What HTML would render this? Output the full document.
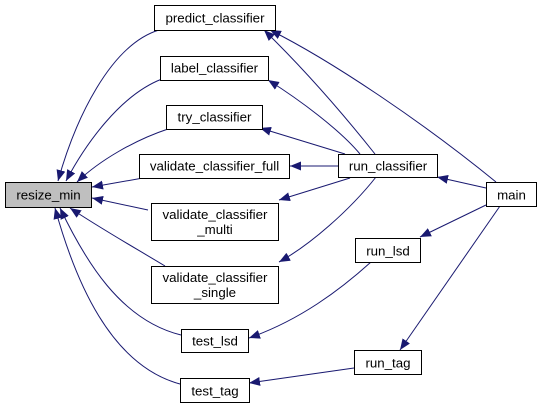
<!DOCTYPE html>
<html><head><meta charset="utf-8"><style>
html,body{margin:0;padding:0;background:#fff;width:542px;height:408px;overflow:hidden}
text{font-family:"Liberation Sans",Arial,sans-serif;font-size:13.3px;fill:#000}
</style></head><body>
<svg width="542" height="408" viewBox="0 0 542 408" xmlns="http://www.w3.org/2000/svg">
<defs><marker id="a" viewBox="0 0 11 9" refX="11" refY="4.5" markerWidth="11" markerHeight="9" markerUnits="userSpaceOnUse" orient="auto"><path d="M0,0L11,4.5L0,9z" fill="#191970"/></marker></defs>
<g fill="none" stroke="#191970" stroke-width="1" marker-end="url(#a)">
<path d="M159,30 C110,45 75,120 58,181"/>
<path d="M162,79 C120,95 85,145 66,181"/>
<path d="M168,129 C135,140 100,160 77,182"/>
<path d="M143,178 L92,187"/>
<path d="M148,210 L92,198"/>
<path d="M165,266 C130,245 100,228 70,208"/>
<path d="M181,335 C120,320 85,260 60,208"/>
<path d="M180,384 C110,365 75,280 55,208"/>
<path d="M375,154 C340,110 305,70 264,30"/>
<path d="M496,182 C420,120 330,60 270,30"/>
<path d="M360,154 C340,130 300,100 268,80"/>
<path d="M345,154 L260,128"/>
<path d="M338,166 L290,166"/>
<path d="M350,178 L279,200"/>
<path d="M376,177 C350,210 310,245 279,262"/>
<path d="M486,188 L437,177"/>
<path d="M486,205 L420,237"/>
<path d="M500,206 L400,350"/>
<path d="M371,262 C340,290 300,320 249,338"/>
<path d="M354,368 L249,383"/>
</g>
<g stroke="#000" stroke-width="1" fill="#fff">
<rect x="5.5" y="182.5" width="86" height="25" fill="#bfbfbf"/>
<rect x="154.5" y="5.5" width="121" height="25"/>
<rect x="160.5" y="56.5" width="108" height="24"/>
<rect x="166.5" y="105.5" width="96" height="24"/>
<rect x="139.5" y="154.5" width="150" height="24"/>
<rect x="151.5" y="203.5" width="127" height="37"/>
<rect x="151.5" y="266.5" width="127" height="37"/>
<rect x="181.5" y="329.5" width="67" height="23"/>
<rect x="180.5" y="378.5" width="69" height="24"/>
<rect x="338.5" y="154.5" width="99" height="23"/>
<rect x="486.5" y="182.5" width="50" height="24"/>
<rect x="355.5" y="238.5" width="65" height="24"/>
<rect x="354.5" y="350.5" width="67" height="24"/>
</g>
<g text-anchor="middle">
<text x="48.5" y="199.5">resize_min</text>
<text x="215" y="22.5">predict_classifier</text>
<text x="214.5" y="72.5">label_classifier</text>
<text x="214.5" y="121.5">try_classifier</text>
<text x="214.5" y="170.5">validate_classifier_full</text>
<text x="215" y="219">validate_classifier</text>
<text x="215" y="234">_multi</text>
<text x="215" y="282">validate_classifier</text>
<text x="215" y="297">_single</text>
<text x="215" y="345.5">test_lsd</text>
<text x="215" y="395.5">test_tag</text>
<text x="388" y="170.5">run_classifier</text>
<text x="511.5" y="199.5">main</text>
<text x="388" y="255.5">run_lsd</text>
<text x="388" y="367.5">run_tag</text>
</g>
</svg>
</body></html>
